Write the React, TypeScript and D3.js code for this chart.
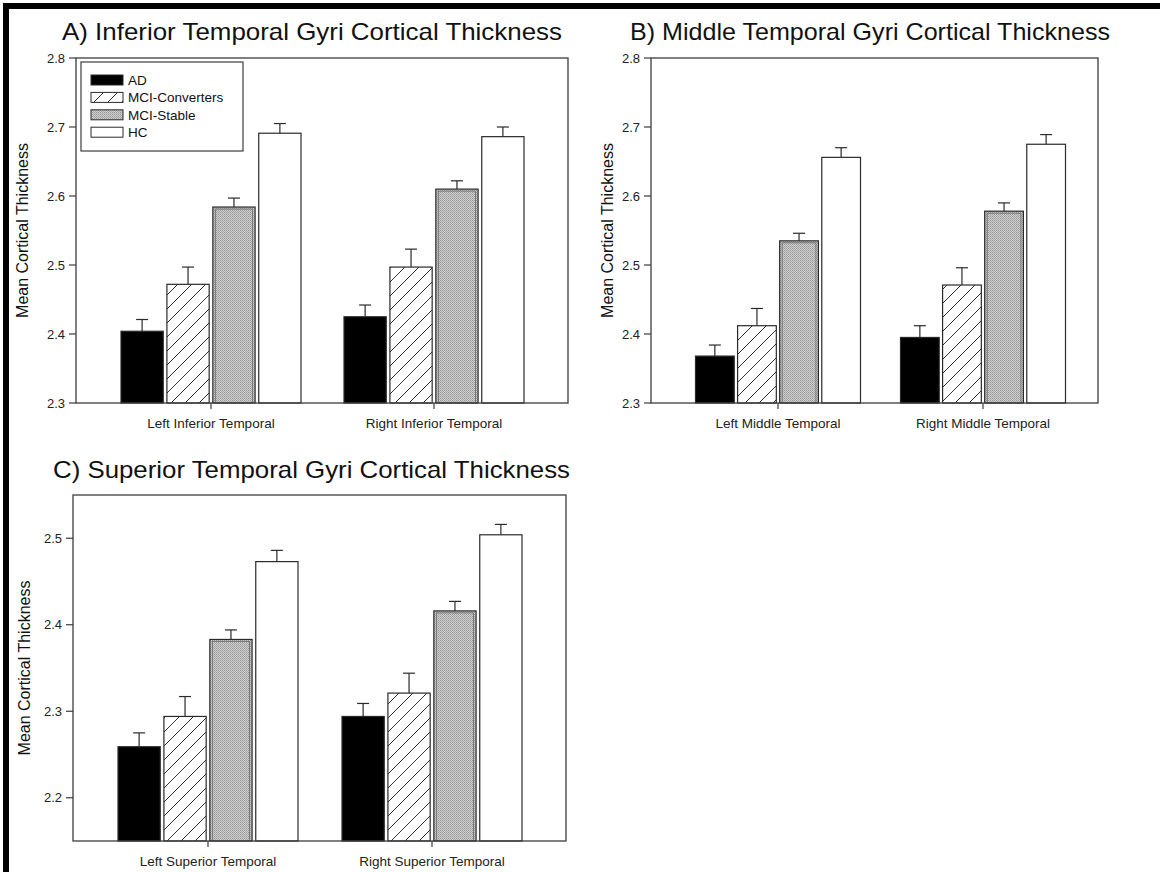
import React from "react";
import * as d3 from "d3";

// Diagnostic groups, in drawing order
const groups = ["AD", "MCI-Converters", "MCI-Stable", "HC"];

// A) Inferior temporal gyri
const inferiorRegions = ["Left Inferior Temporal", "Right Inferior Temporal"];
const inferiorMeans = [
  [2.404, 2.472, 2.584, 2.691],
  [2.425, 2.497, 2.61, 2.686],
];
const inferiorSE = [
  [0.017, 0.025, 0.013, 0.014],
  [0.017, 0.026, 0.012, 0.014],
];
const inferiorTicks = [2.3, 2.4, 2.5, 2.6, 2.7, 2.8];

// B) Middle temporal gyri
const middleRegions = ["Left Middle Temporal", "Right Middle Temporal"];
const middleMeans = [
  [2.368, 2.412, 2.535, 2.656],
  [2.395, 2.471, 2.578, 2.675],
];
const middleSE = [
  [0.016, 0.025, 0.011, 0.014],
  [0.017, 0.025, 0.012, 0.014],
];
const middleTicks = [2.3, 2.4, 2.5, 2.6, 2.7, 2.8];

// C) Superior temporal gyri
const superiorRegions = ["Left Superior Temporal", "Right Superior Temporal"];
const superiorMeans = [
  [2.259, 2.294, 2.383, 2.473],
  [2.294, 2.321, 2.416, 2.504],
];
const superiorSE = [
  [0.016, 0.023, 0.011, 0.013],
  [0.015, 0.023, 0.011, 0.012],
];
const superiorTicks = [2.2, 2.3, 2.4, 2.5];

const FONT = "'Liberation Sans', Arial, Helvetica, sans-serif";
const W = 1160;
const H = 872;

const fills: Record<string, string> = {
  AD: "#000000",
  "MCI-Converters": "url(#hatch)",
  "MCI-Stable": "url(#dots)",
  HC: "#ffffff",
};

type PanelProps = {
  title: string;
  titleX: number;
  titleLen: number;
  titleY: number;
  regions: string[];
  means: number[][];
  ses: number[][];
  ticks: number[];
  domain: [number, number];
  frame: { x0: number; x1: number; y0: number; y1: number };
  centers: [number, number];
  groupWidth: number;
  yLabelX: number;
  legend?: boolean;
};

function Panel(p: PanelProps) {
  const { x0, x1, y0, y1 } = p.frame;
  const y = d3.scaleLinear().domain(p.domain).range([y1, y0]);
  const x = d3.scalePoint<string>().domain(p.regions).range(p.centers);
  const band = d3
    .scaleBand<string>()
    .domain(groups)
    .range([-p.groupWidth / 2, p.groupWidth / 2])
    .paddingInner(0.08);
  const bw = band.bandwidth();
  const axisColor = "#3c3c3c";

  return (
    <g>
      <text
        x={p.titleX}
        y={p.titleY}
        fontFamily={FONT}
        fontSize={24}
        fill="#111"
        textLength={p.titleLen}
        lengthAdjust="spacingAndGlyphs"
      >
        {p.title}
      </text>

      {/* bars */}
      {p.regions.map((r, ri) =>
        groups.map((g, gi) => {
          const bx = (x(r) as number) + (band(g) as number);
          const by = y(p.means[ri][gi]);
          return (
            <g key={r + g}>
              <rect
                x={bx}
                y={by}
                width={bw}
                height={y1 - by}
                fill={fills[g]}
                stroke="#2a2a2a"
                strokeWidth={1.2}
              />
              {g === "MCI-Stable" && (
                <rect
                  x={bx + 2.5}
                  y={by + 2}
                  width={bw - 5}
                  height={y1 - by - 2}
                  fill="none"
                  stroke="#6a6a6a"
                  strokeWidth={0.8}
                />
              )}
            </g>
          );
        })
      )}

      {/* error bars (upper only) */}
      {p.regions.map((r, ri) =>
        groups.map((g, gi) => {
          const cx = (x(r) as number) + (band(g) as number) + bw / 2;
          const top = y(p.means[ri][gi] + p.ses[ri][gi]);
          const base = y(p.means[ri][gi]);
          return (
            <g key={"e" + r + g} stroke="#2a2a2a" strokeWidth={1.2}>
              <line x1={cx} x2={cx} y1={base} y2={top} />
              <line x1={cx - 6} x2={cx + 6} y1={top} y2={top} />
            </g>
          );
        })
      )}

      {/* frame */}
      <rect
        x={x0}
        y={y0}
        width={x1 - x0}
        height={y1 - y0}
        fill="none"
        stroke={axisColor}
        strokeWidth={1.3}
      />

      {/* y axis */}
      {p.ticks.map((t) => (
        <g key={"t" + t}>
          <line x1={x0 - 7} x2={x0} y1={y(t)} y2={y(t)} stroke={axisColor} strokeWidth={1.2} />
          <text
            x={x0 - 11}
            y={y(t) + 4.5}
            textAnchor="end"
            fontFamily={FONT}
            fontSize={13}
            fill="#222"
          >
            {t.toFixed(1)}
          </text>
        </g>
      ))}
      <text
        transform={`translate(${p.yLabelX},${(y0 + y1) / 2}) rotate(-90)`}
        textAnchor="middle"
        fontFamily={FONT}
        fontSize={16}
        fill="#111"
      >
        Mean Cortical Thickness
      </text>

      {/* x axis */}
      {p.regions.map((r) => (
        <g key={"c" + r}>
          <line
            x1={x(r) as number}
            x2={x(r) as number}
            y1={y1}
            y2={y1 + 6}
            stroke={axisColor}
            strokeWidth={1.2}
          />
          <text
            x={x(r) as number}
            y={y1 + 25}
            textAnchor="middle"
            fontFamily={FONT}
            fontSize={13.5}
            fill="#222"
          >
            {r}
          </text>
        </g>
      ))}

      {p.legend && (
        <g>
          <rect x={81} y={62} width={162} height={89} fill="#fff" stroke={axisColor} strokeWidth={1.2} />
          {groups.map((g, i) => {
            const cy = 80 + i * 17.4;
            return (
              <g key={"l" + g}>
                <rect
                  x={91}
                  y={cy - 5}
                  width={32}
                  height={10}
                  fill={fills[g]}
                  stroke="#2a2a2a"
                  strokeWidth={1}
                />
                <text x={128} y={cy + 5} fontFamily={FONT} fontSize={13.5} fill="#111">
                  {g}
                </text>
              </g>
            );
          })}
        </g>
      )}
    </g>
  );
}

export default function App() {
  return (
    <svg
      width={W}
      height={H}
      style={{ position: "absolute", left: 0, top: 0, display: "block", background: "#fff" }}
    >
      <defs>
        <pattern id="hatch" patternUnits="userSpaceOnUse" width={14} height={14}>
          <rect width={14} height={14} fill="#fff" />
          <path d="M-1,15 L15,-1 M-8,8 L8,-8 M6,22 L22,6" stroke="#333" strokeWidth={1} />
        </pattern>
        <pattern id="dots" patternUnits="userSpaceOnUse" width={2} height={2}>
          <rect width={2} height={2} fill="#d0d0d0" />
          <rect x={0} y={0} width={1} height={1} fill="#959595" />
          <rect x={1} y={1} width={1} height={1} fill="#a8a8a8" />
        </pattern>
      </defs>

      <rect x={0} y={0} width={W} height={H} fill="#fff" />
      {/* outer black border: top and left */}
      <rect x={3} y={3} width={W - 3} height={6} fill="#000" />
      <rect x={3} y={3} width={6} height={H - 3} fill="#000" />

      <Panel
        title="A) Inferior Temporal Gyri Cortical Thickness"
        titleX={62}
        titleLen={500}
        titleY={40}
        regions={inferiorRegions}
        means={inferiorMeans}
        ses={inferiorSE}
        ticks={inferiorTicks}
        domain={[2.3, 2.8]}
        frame={{ x0: 76, x1: 568, y0: 58, y1: 403 }}
        centers={[211, 434]}
        groupWidth={180}
        yLabelX={28}
        legend
      />
      <Panel
        title="B) Middle Temporal Gyri Cortical Thickness"
        titleX={630}
        titleLen={480}
        titleY={40}
        regions={middleRegions}
        means={middleMeans}
        ses={middleSE}
        ticks={middleTicks}
        domain={[2.3, 2.8]}
        frame={{ x0: 651, x1: 1098, y0: 58, y1: 403 }}
        centers={[778, 983]}
        groupWidth={165}
        yLabelX={613}
      />
      <Panel
        title="C) Superior Temporal Gyri Cortical Thickness"
        titleX={53}
        titleLen={517}
        titleY={478}
        regions={superiorRegions}
        means={superiorMeans}
        ses={superiorSE}
        ticks={superiorTicks}
        domain={[2.15, 2.55]}
        frame={{ x0: 73, x1: 566, y0: 495, y1: 841 }}
        centers={[208, 432]}
        groupWidth={180}
        yLabelX={30}
      />
    </svg>
  );
}
